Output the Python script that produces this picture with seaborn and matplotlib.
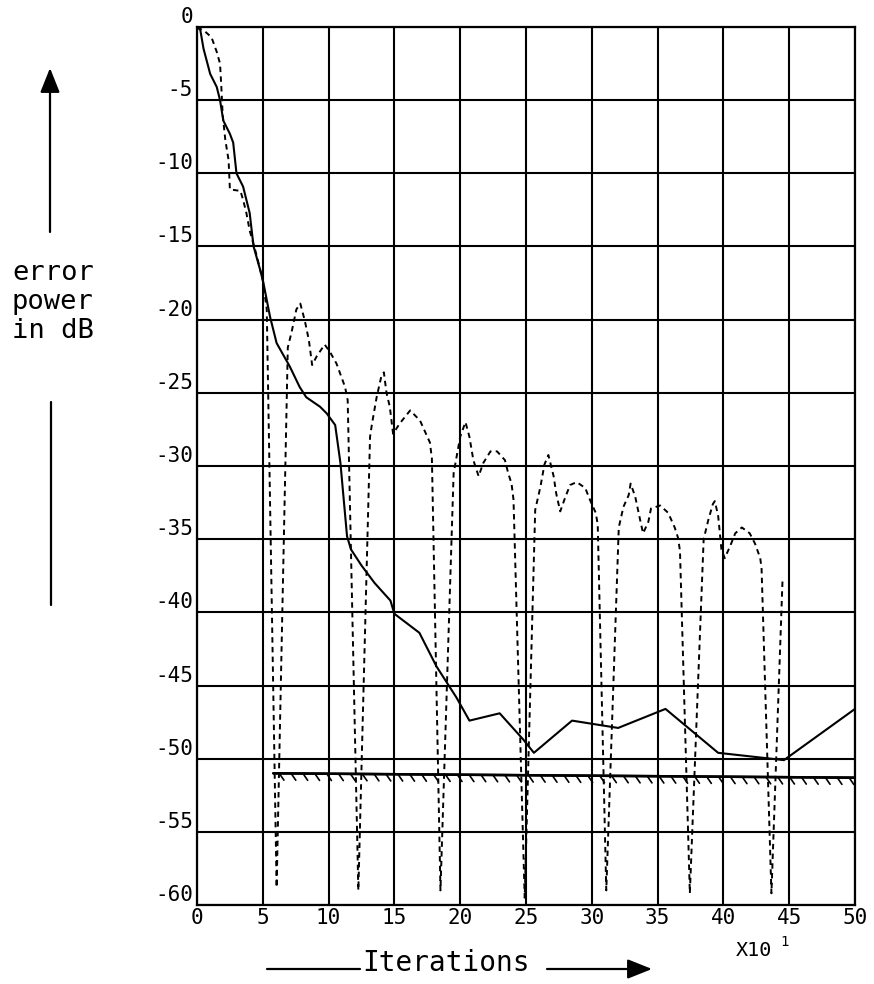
import matplotlib
matplotlib.use("Agg")
import matplotlib.pyplot as plt
import matplotlib.patheffects as pe
import seaborn as sns
import pandas as pd

# ---------------- data ----------------
solid_x = [0, 0.25, 0.5, 1.0, 1.5, 1.75, 2.0, 2.5, 2.75, 3.0, 3.5, 4.0, 4.3, 4.8,
           5.05, 5.55, 6.05, 7.05, 7.8, 8.3, 9.35, 9.85, 10.5, 10.9, 11.4, 11.7,
           12.5, 13.5, 14.7, 15.0, 16.9, 18.2, 19.7, 20.7, 23.0, 24.8, 25.6, 28.5,
           32.0, 35.6, 39.6, 44.6, 50.0]
solid_y = [0, -0.2, -1.5, -3.2, -4.1, -5.0, -6.4, -7.3, -7.9, -10.0, -10.9, -12.7,
           -15.0, -16.6, -17.5, -19.8, -21.6, -23.2, -24.6, -25.3, -25.95, -26.4,
           -27.2, -29.8, -34.8, -35.7, -36.8, -38.0, -39.2, -40.1, -41.4, -43.7,
           -45.8, -47.4, -46.9, -48.7, -49.6, -47.4, -47.9, -46.6, -49.6, -50.1,
           -46.6]

dash_x = [0, 0.6, 1.1, 1.5, 1.75, 1.85, 1.95, 2.15, 2.4, 2.5, 3.3, 3.5, 3.75, 4.0,
          4.5, 5.0, 5.3,
          6.05,
          6.9, 7.2, 7.55, 7.85, 8.2, 8.5, 8.75, 9.1, 9.7, 10.1, 10.6, 11.25, 11.45,
          12.26,
          13.15, 13.3, 13.65, 14.0, 14.2, 14.4, 14.65, 14.9, 15.4, 16.2, 16.95,
          17.7, 17.85,
          18.5,
          19.5, 20.0, 20.4, 20.7, 21.0, 21.4, 21.75, 22.3, 22.8, 23.4, 23.65, 23.9,
          24.05,
          24.9,
          25.7, 26.1, 26.4, 26.7, 27.1, 27.3, 27.6, 28.0, 28.35, 28.85, 29.5, 29.9,
          30.3, 30.45,
          31.1,
          32.05, 32.4, 32.8, 32.95, 33.3, 33.7, 33.9, 34.3, 34.5, 35.2, 35.8, 36.3,
          36.55, 36.7,
          37.45,
          38.5, 38.85, 39.2, 39.35, 39.6, 39.85, 40.1, 40.5, 40.9, 41.4, 42.0, 42.4,
          42.8, 42.9,
          43.65,
          44.5]
dash_y = [0, -0.3, -0.7, -1.7, -2.5, -4.1, -6.0, -7.7, -9.1, -11.1, -11.2, -11.8,
          -12.7, -13.9, -15.5, -17.3, -19.3,
          -58.8,
          -21.9, -20.8, -19.3, -18.9, -20.1, -21.4, -23.1, -22.5, -21.7, -22.2,
          -23.0, -24.6, -25.5,
          -59.0,
          -28.0, -27.1, -25.3, -23.9, -23.6, -25.0, -25.95, -27.8, -27.1, -26.2,
          -26.9, -28.4, -29.5,
          -59.0,
          -30.5, -28.0, -27.0, -28.0, -29.6, -30.7, -29.8, -29.0, -29.0, -29.6,
          -30.5, -31.2, -32.3,
          -59.5,
          -33.0, -31.4, -29.9, -29.25, -30.7, -31.9, -33.1, -32.1, -31.3, -31.1,
          -31.5, -32.4, -33.2, -34.0,
          -59.0,
          -34.2, -32.8, -32.0, -31.2, -32.1, -33.8, -34.6, -33.8, -32.9, -32.7,
          -33.2, -34.2, -34.9, -35.8,
          -59.2,
          -35.0, -33.7, -32.6, -32.4, -33.4, -35.7, -36.3, -35.5, -34.6, -34.2,
          -34.6, -35.3, -36.3, -37.0,
          -59.2,
          -37.6]

floor_x = [5.8, 50.0]
floor_y = [-51.0, -51.3]

x_ticks = [0, 5, 10, 15, 20, 25, 30, 35, 40, 45, 50]
y_ticks = [0, -5, -10, -15, -20, -25, -30, -35, -40, -45, -50, -55, -60]
x_tick_labels = [str(v) for v in x_ticks]
y_tick_labels = [str(v) for v in y_ticks]

# ---------------- style ----------------
sns.set_theme(style="white")
plt.rcParams["font.family"] = ["DejaVu Sans Mono", "DejaVu Sans"]
plt.rcParams["axes.unicode_minus"] = False

W, H = 874, 984
fig = plt.figure(figsize=(W / 100, H / 100), dpi=100)
fig.patch.set_facecolor("white")
ax = fig.add_axes([197 / W, 1 - 905 / H, (855 - 197) / W, (905 - 27) / H])
ax.set_facecolor("white")

df_s = pd.DataFrame({"x": solid_x, "y": solid_y})
df_d = pd.DataFrame({"x": dash_x, "y": dash_y})
df_f = pd.DataFrame({"x": floor_x, "y": floor_y})

sns.lineplot(data=df_s, x="x", y="y", sort=False, estimator=None, color="black",
             lw=1.5, ax=ax, zorder=5)
sns.lineplot(data=df_d, x="x", y="y", sort=False, estimator=None, color="black",
             lw=1.4, linestyle=(0, (2.8, 2.2)), ax=ax, zorder=5)
sns.lineplot(data=df_f, x="x", y="y", sort=False, estimator=None, color="black",
             lw=1.8, ax=ax, zorder=5,
             path_effects=[pe.Stroke(), pe.withTickedStroke(spacing=8.5, angle=-55,
                                                            length=0.7, linewidth=1.2)])

ax.set_xlim(0, 50)
ax.set_ylim(-60, 0)
ax.set_xticks(x_ticks)
ax.set_xticklabels(x_tick_labels)
ax.set_yticks(y_ticks)
ax.set_yticklabels(y_tick_labels)
ax.set_xlabel("")
ax.set_ylabel("")
ax.grid(True, color="black", lw=1.5)
ax.set_axisbelow(True)
for s in ax.spines.values():
    s.set_color("black")
    s.set_linewidth(1.6)
    s.set_visible(True)
ax.tick_params(axis="both", length=0, labelsize=15, colors="black")
ax.tick_params(axis="x", pad=2)
ax.tick_params(axis="y", pad=3)
for lab in ax.get_yticklabels():
    lab.set_verticalalignment("bottom")

# ---------------- annotations ----------------
fig.text(12 / W, 1 - 302 / H, "error\npower\nin dB", ha="left", va="center",
         fontsize=19.5, linespacing=1.13, color="black")

arrow_kw = dict(arrowstyle="-|>,head_length=0.75,head_width=0.3", color="black",
                lw=1.6, mutation_scale=20, shrinkA=0, shrinkB=0)
line_kw = dict(arrowstyle="-", color="black", lw=1.6, shrinkA=0, shrinkB=0)

ax.annotate("", xy=(50, H - 68), xytext=(50, H - 232), xycoords="figure pixels",
            textcoords="figure pixels", arrowprops=arrow_kw, annotation_clip=False)
ax.annotate("", xy=(51, H - 402), xytext=(51, H - 605), xycoords="figure pixels",
            textcoords="figure pixels", arrowprops=line_kw, annotation_clip=False)

ax.annotate("", xy=(360, H - 969), xytext=(267, H - 969), xycoords="figure pixels",
            textcoords="figure pixels", arrowprops=line_kw, annotation_clip=False)
ax.annotate("", xy=(652, H - 969), xytext=(547, H - 969), xycoords="figure pixels",
            textcoords="figure pixels", arrowprops=arrow_kw, annotation_clip=False)

fig.text(446 / W, 1 - 963 / H, "Iterations", ha="center", va="center",
         fontsize=20, color="black")
fig.text(754 / W, 1 - 951 / H, "X10", ha="center", va="center",
         fontsize=14.5, color="black")
fig.text(784 / W, 1 - 942 / H, "1", ha="center", va="center",
         fontsize=10, color="black")

fig.savefig("out.png", dpi=100, facecolor="white")
